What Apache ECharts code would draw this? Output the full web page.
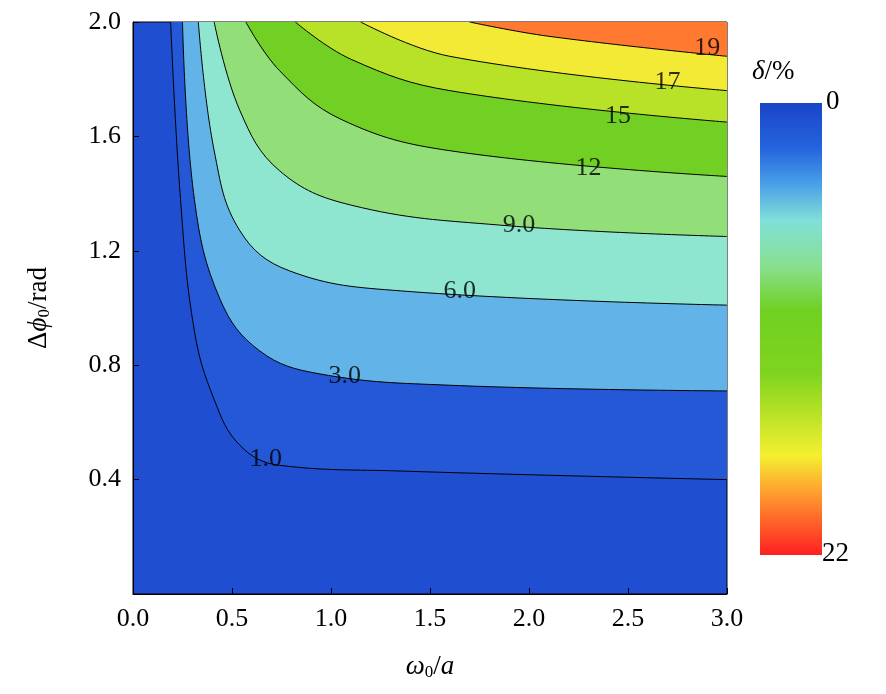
<!DOCTYPE html>
<html>
<head>
<meta charset="utf-8">
<script src="https://cdn.jsdelivr.net/npm/echarts@6/dist/echarts.min.js"></script>
<style>html,body{margin:0;padding:0;background:#fff}#main{width:886px;height:694px}</style>
</head>
<body>
<div id="main"></div>
<script>
// contour levels and their lines: [omega0/a, dphi0]
var levels = [1, 3, 6, 9, 12, 15, 17, 19];
var levelText = ['1.0', '3.0', '6.0', '9.0', '12', '15', '17', '19'];
var c1 = [[0.19,2.0],[0.24,1.38],[0.31,0.92],[0.41,0.68],[0.54,0.52],[0.74,0.45],[1.35,0.43],[3.0,0.40]];
var c3 = [[0.25,2.0],[0.31,1.38],[0.44,1.03],[0.64,0.85],[0.94,0.77],[1.6,0.73],[3.0,0.71]];
var c6 = [[0.33,2.0],[0.41,1.55],[0.54,1.27],[0.79,1.13],[1.35,1.06],[3.0,1.01]];
var c9 = [[0.41,2.0],[0.54,1.69],[0.74,1.48],[1.1,1.36],[1.85,1.29],[3.0,1.25]];
var c12 = [[0.57,2.0],[0.74,1.83],[1.05,1.66],[1.6,1.55],[3.0,1.46]];
var c15 = [[0.82,2.0],[1.1,1.87],[1.6,1.76],[3.0,1.65]];
var c17 = [[1.15,2.0],[1.6,1.88],[3.0,1.76]];
var c19 = [[1.7,2.0],[2.1,1.95],[3.0,1.88]];
var contours = [c1, c3, c6, c9, c12, c15, c17, c19];
// label positions on each contour
var labelPos = [[0.67,0.47],[1.07,0.76],[1.65,1.06],[1.95,1.29],[2.3,1.49],[2.45,1.67],[2.7,1.79],[2.9,1.91]];
// band colours above each contour
var bandColors = ['#2458d6', '#62b4e8', '#8ee6d0', '#92de78', '#72d024', '#b8e228', '#f2ea34', '#ff7a30'];
var baseColor = '#1f4ed0';

var chart = echarts.init(document.getElementById('main'));
var serif = 'Liberation Serif, Times New Roman, serif';
var series = contours.map(function (c, i) {
  return {
    type: 'line', data: c, smooth: 0.4, symbol: 'none', silent: true,
    lineStyle: { color: '#000', width: 1 },
    areaStyle: { color: bandColors[i], opacity: 1, origin: 'end' },
    z: 2 + i
  };
});
series.push({
  type: 'scatter', symbolSize: 0, z: 20,
  data: labelPos.map(function (p, i) { return { value: p, name: levelText[i] }; }),
  label: { show: true, formatter: '{b}', fontFamily: serif, fontSize: 26, color: '#000', position: 'inside' }
});

chart.setOption({
  animation: false,
  grid: { left: 133, right: 159, top: 22, bottom: 100, show: true, backgroundColor: baseColor, borderColor: '#000', borderWidth: 1, z: 0 },
  xAxis: {
    type: 'value', min: 0, max: 3, interval: 0.5,
    axisLine: { lineStyle: { color: '#000' } }, axisTick: { inside: true, length: 6, lineStyle: { color: '#000' } },
    splitLine: { show: false },
    axisLabel: { fontFamily: serif, fontSize: 26, color: '#000', margin: 12, formatter: function (v) { return v.toFixed(1); } },
    name: '{i|ω}{s|0}/{i|a}', nameLocation: 'middle', nameGap: 58,
    nameTextStyle: { rich: { i: { fontFamily: serif, fontSize: 27, fontStyle: 'italic' }, s: { fontFamily: serif, fontSize: 17, padding: [12, 0, 0, 0] } }, fontFamily: serif, fontSize: 27 }
  },
  yAxis: {
    type: 'value', min: 0, max: 2, interval: 0.4,
    axisLine: { lineStyle: { color: '#000' } }, axisTick: { inside: true, length: 6, lineStyle: { color: '#000' } },
    splitLine: { show: false },
    axisLabel: { fontFamily: serif, fontSize: 26, color: '#000', margin: 12, formatter: function (v) { return v === 0 ? '' : v.toFixed(1); } },
    name: '{n|Δ}{i|ϕ}{s|0}{n|/rad}', nameLocation: 'middle', nameGap: 80,
    nameTextStyle: { rich: { n: { fontFamily: serif, fontSize: 27 }, i: { fontFamily: serif, fontSize: 27, fontStyle: 'italic' }, s: { fontFamily: serif, fontSize: 17, padding: [12, 0, 0, 0] } } }
  },
  series: series,
  graphic: [
    { type: 'rect', shape: { x: 760, y: 103, width: 62, height: 452 },
      style: { fill: new echarts.graphic.LinearGradient(0, 0, 0, 1, [
        { offset: 0, color: '#1a45c8' }, { offset: 0.1, color: '#2464dc' }, { offset: 0.18, color: '#4aa0e8' },
        { offset: 0.26, color: '#80e0d8' }, { offset: 0.36, color: '#88e090' }, { offset: 0.46, color: '#70d020' },
        { offset: 0.6, color: '#80d420' }, { offset: 0.7, color: '#c0e428' }, { offset: 0.78, color: '#f4f030' },
        { offset: 0.86, color: '#ffa030' }, { offset: 1, color: '#ff2020' }]) } },
    { type: 'text', left: 752, top: 58, style: { rich: { i: { fontFamily: serif, fontSize: 27, fontStyle: 'italic' }, n: { fontFamily: serif, fontSize: 27 } }, text: '{i|δ}{n|/%}' } },
    { type: 'text', left: 826, top: 88, style: { text: '0', fontFamily: serif, fontSize: 27, fill: '#000' } },
    { type: 'text', left: 822, top: 540, style: { text: '22', fontFamily: serif, fontSize: 27, fill: '#000' } }
  ]
});
</script>
</body>
</html>
